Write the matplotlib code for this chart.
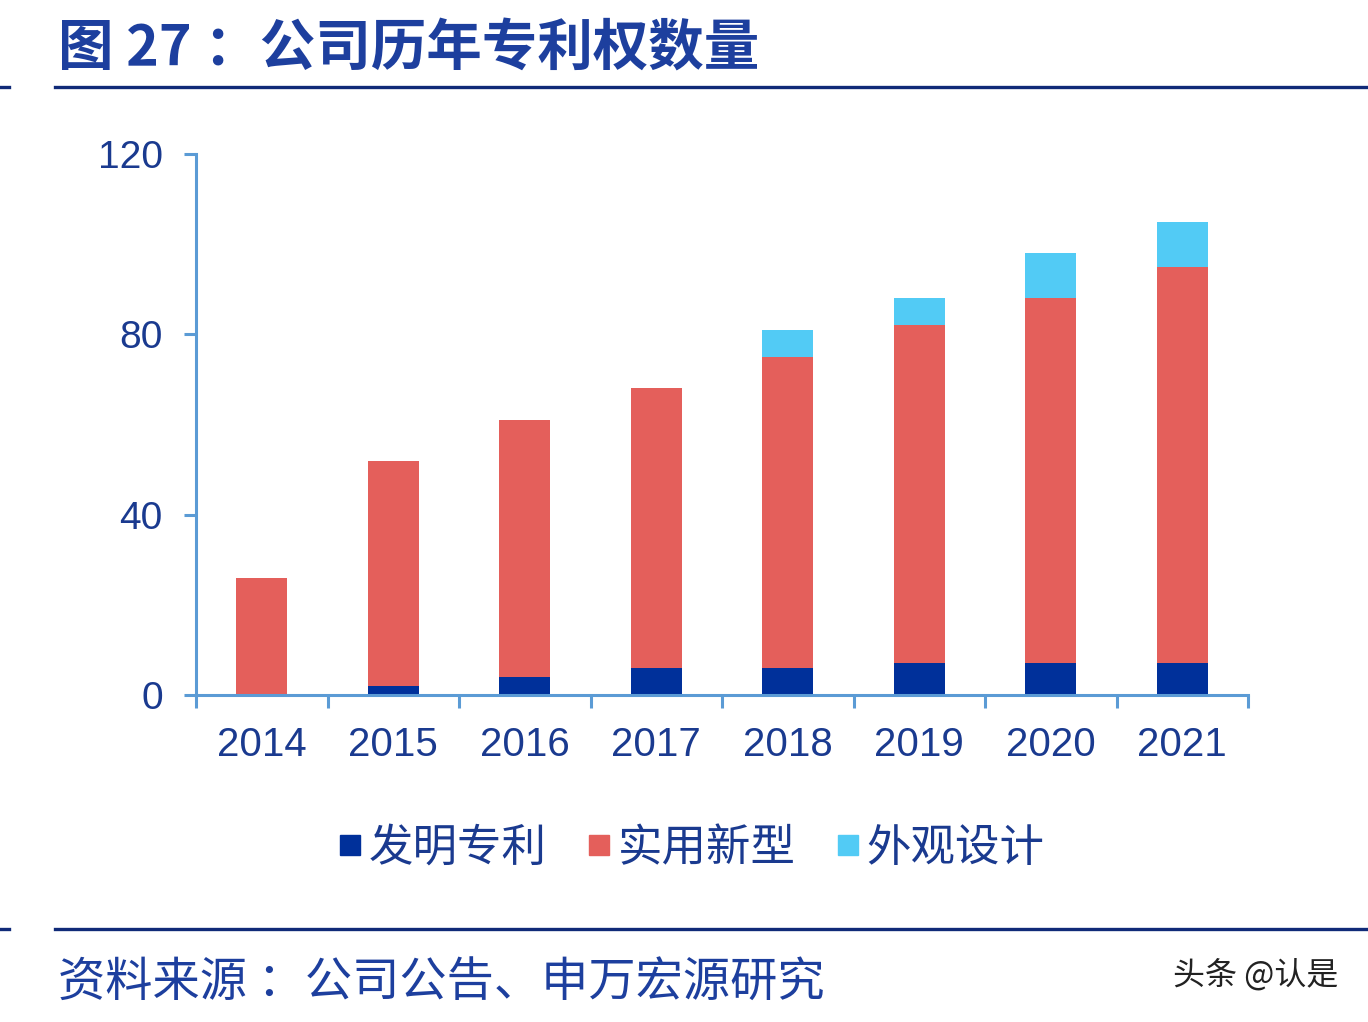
"""
公司历年专利权数量 - 堆叠柱状图
"""
import matplotlib
matplotlib.use('Agg')
import matplotlib.pyplot as plt
from matplotlib.lines import Line2D

# 字体设置：中文用 Noto Sans CJK SC，缺字回退到 DejaVu Sans
plt.rcParams['font.family'] = ['Noto Sans CJK SC', 'DejaVu Sans']
plt.rcParams['axes.unicode_minus'] = False

# 数据
years = ['2014', '2015', '2016', '2017', '2018', '2019', '2020', '2021']
invention = [0, 2, 4, 6, 6, 7, 7, 7]          # 发明专利
utility = [26, 50, 57, 62, 69, 75, 81, 88]    # 实用新型
design = [0, 0, 0, 0, 6, 6, 10, 10]           # 外观设计
yticks = [0, 40, 80, 120]

series_names = ['发明专利', '实用新型', '外观设计']
colors = ['#00309a', '#e45f5b', '#52cbf5']

navy = '#1a3a8f'
axis_color = '#5b9bd5'

W, H = 1368, 1022
fig = plt.figure(figsize=(W / 100, H / 100), dpi=100)


def fx(px):
    return px / W


def fy(py):
    return 1 - py / H


# 标题和分隔线
fig.text(fx(58), fy(50), '图 27 ：公司历年专利权数量', fontsize=40, fontweight='bold',
         color='#1d3f9e', va='center', ha='left')
fig.add_artist(Line2D([fx(55), 1], [fy(87), fy(87)], color='#102a78', lw=2.4))
fig.add_artist(Line2D([0, fx(9)], [fy(87), fy(87)], color='#102a78', lw=2.4))
fig.add_artist(Line2D([fx(55), 1], [fy(929), fy(929)], color='#102a78', lw=2.4))
fig.add_artist(Line2D([0, fx(9)], [fy(929), fy(929)], color='#102a78', lw=2.4))

# 数据来源和水印
fig.text(fx(58), fy(983), '资料来源 ：公司公告、申万宏源研究', fontsize=34,
         color='#1d3f9e', va='center', ha='left')
fig.text(fx(1338), fy(975), '头条 @认是', fontsize=23, color='#222222',
         va='center', ha='right')

# 绘图区
ax = fig.add_axes([fx(196), fy(695), fx(1248) - fx(196), fy(154) - fy(695)])
x = list(range(len(years)))
bottom2 = invention
bottom3 = [a + b for a, b in zip(invention, utility)]
ax.bar(x, invention, width=0.39, color=colors[0], zorder=2)
ax.bar(x, utility, width=0.39, bottom=bottom2, color=colors[1], zorder=2)
ax.bar(x, design, width=0.39, bottom=bottom3, color=colors[2], zorder=2)

ax.set_xlim(-0.5, len(years) - 0.5)
ax.set_ylim(0, 120)
for s in ['top', 'right']:
    ax.spines[s].set_visible(False)
for s in ['left', 'bottom']:
    ax.spines[s].set_color(axis_color)
    ax.spines[s].set_linewidth(2.2)
    ax.spines[s].set_zorder(3)

ax.set_yticks(yticks)
ax.set_yticklabels([str(v) for v in yticks])
ax.tick_params(axis='y', direction='out', length=9, width=2.2, color=axis_color,
               labelsize=28, labelcolor=navy, pad=15)

ax.set_xticks(x)
ax.set_xticklabels(years)
ax.set_xticks([i - 0.5 for i in range(len(years) + 1)], minor=True)
ax.tick_params(axis='x', which='major', length=0, labelsize=29, labelcolor=navy, pad=22)
ax.tick_params(axis='x', which='minor', direction='out', length=9, width=2.2,
               color=axis_color)
for lab in ax.get_xticklabels() + ax.get_yticklabels():
    lab.set_family(['Liberation Sans', 'DejaVu Sans'])

# 图例
handles = [Line2D([], [], marker='s', linestyle='', markersize=14, color=c)
           for c in colors]
fig.legend(handles, series_names, loc='center', bbox_to_anchor=(fx(691), fy(848)),
           ncol=3, frameon=False, fontsize=32, handlelength=0.55, handletextpad=0.15,
           columnspacing=0.9, labelcolor=navy)

plt.savefig('out.png', dpi=100)
